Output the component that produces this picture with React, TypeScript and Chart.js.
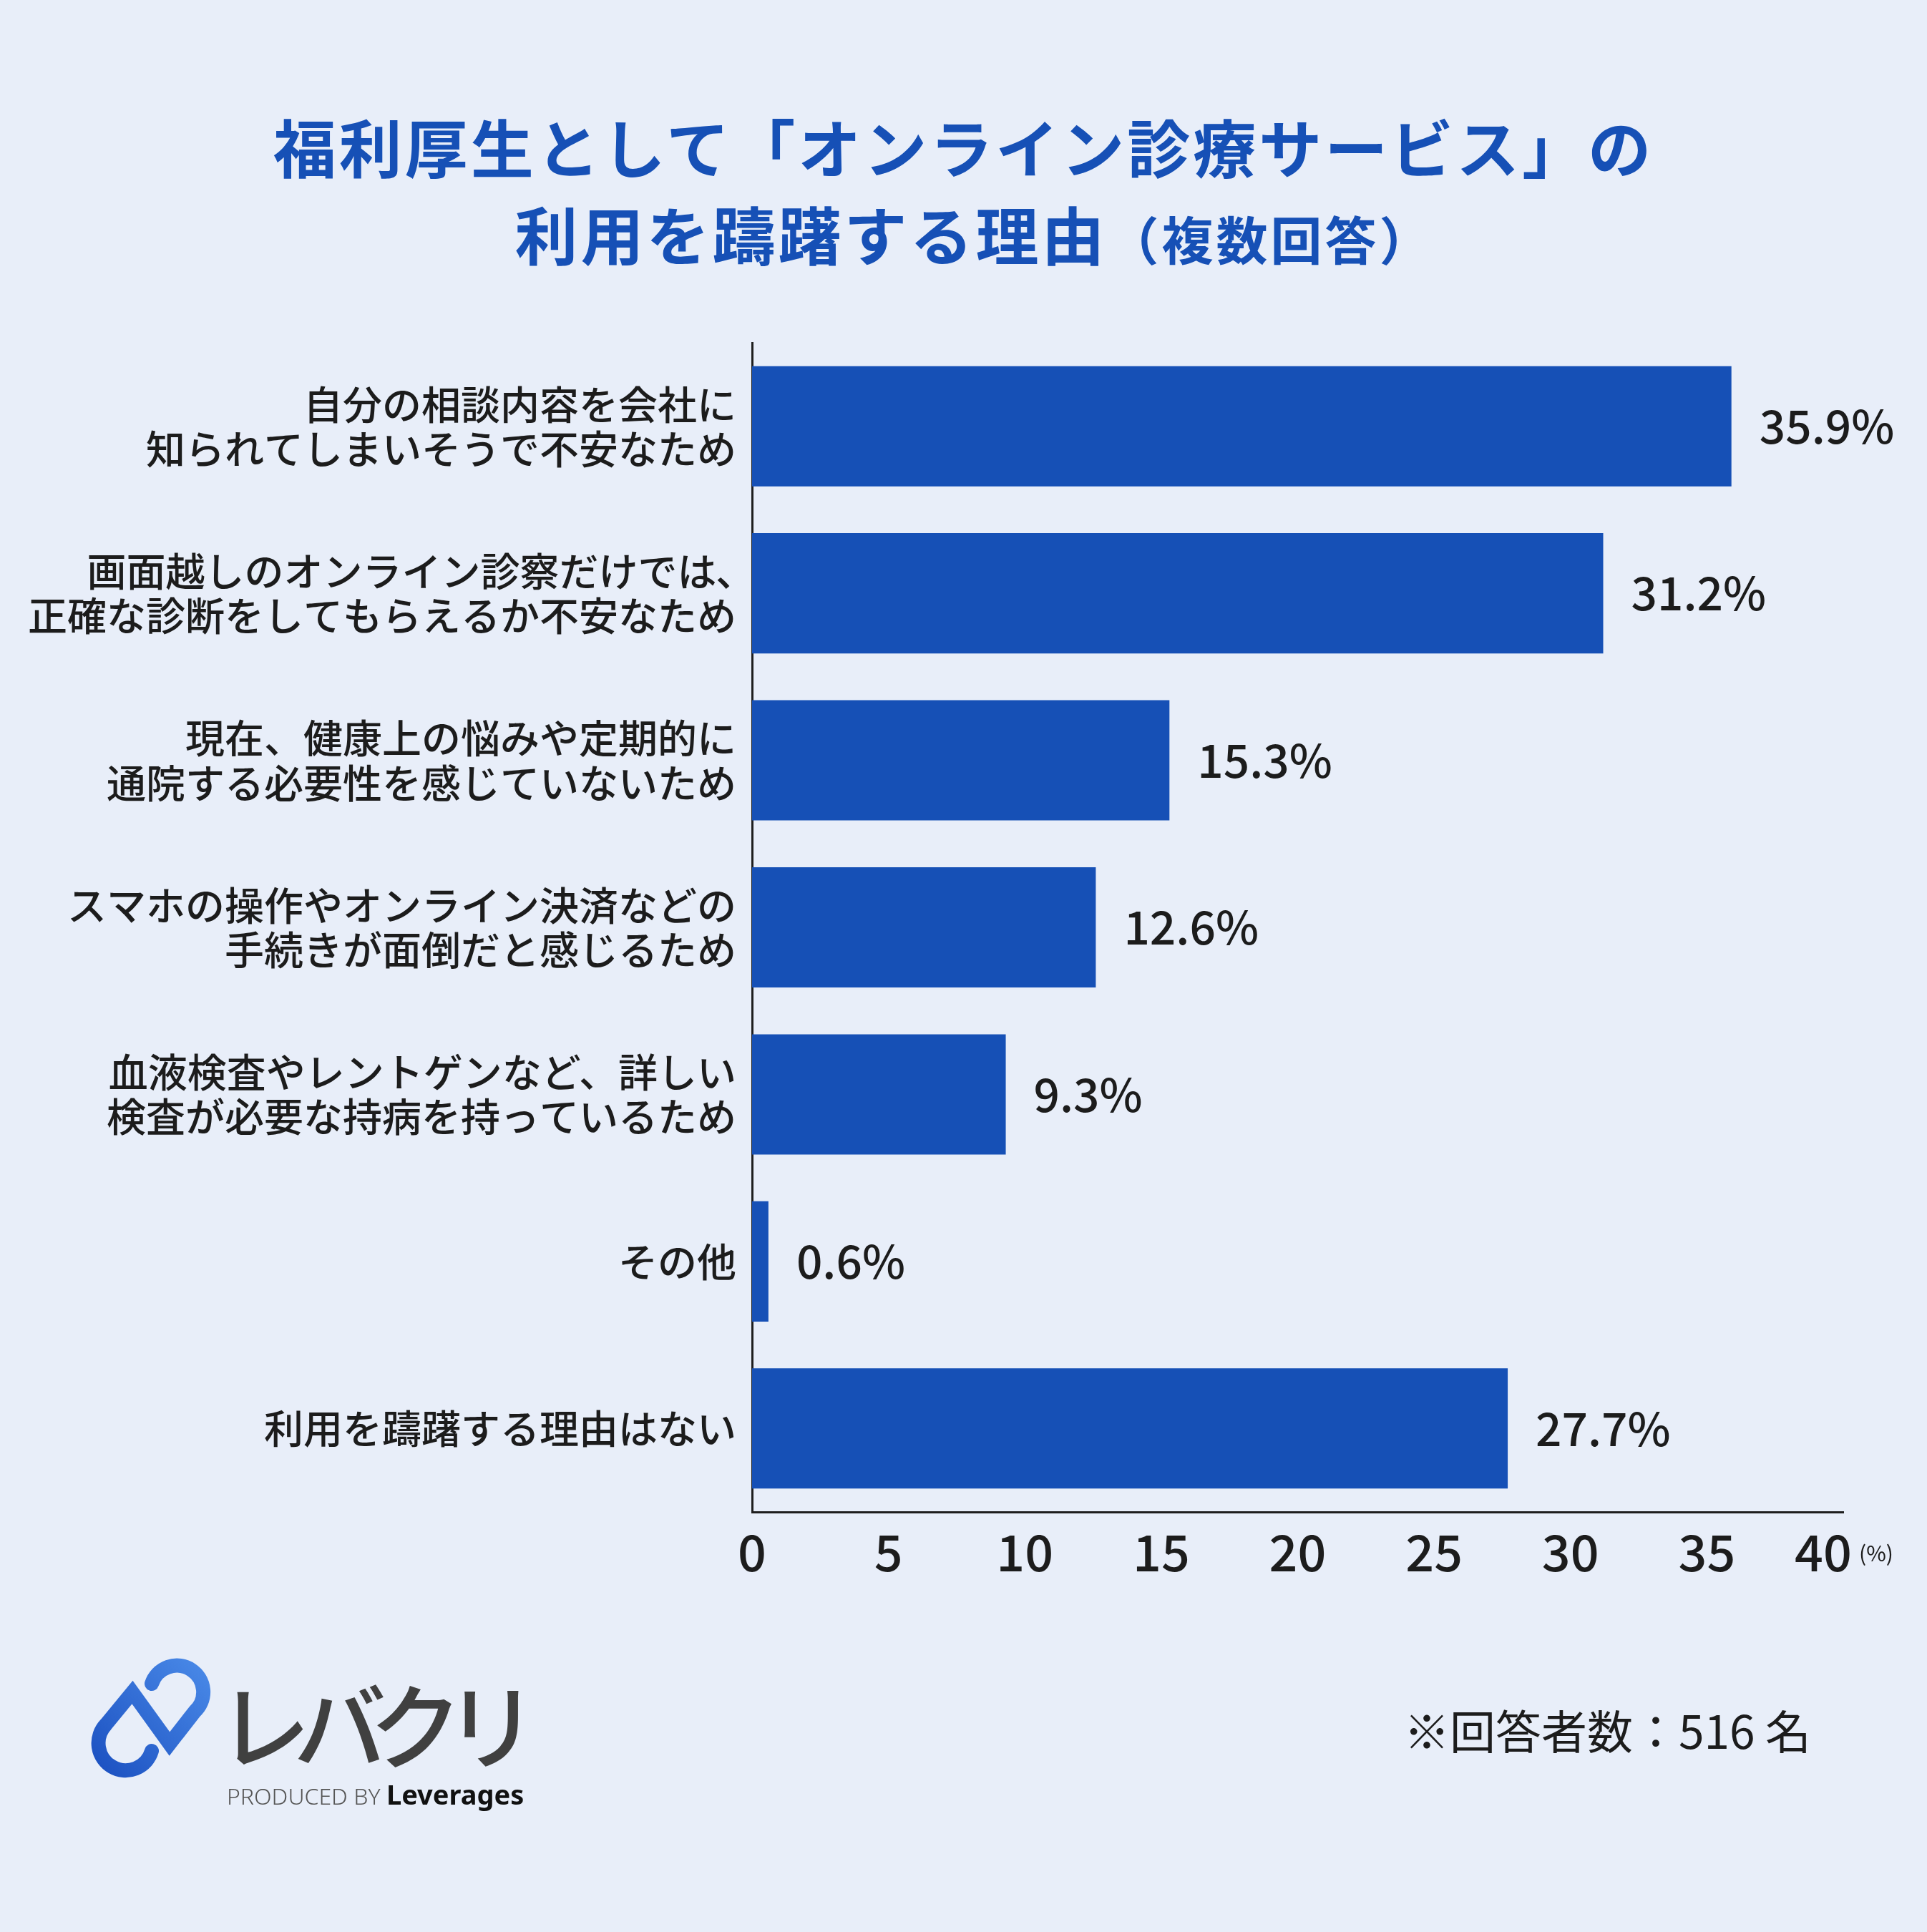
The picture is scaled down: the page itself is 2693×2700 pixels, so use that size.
import React, { useEffect, useRef } from 'react';
import { Chart, registerables } from 'chart.js';

Chart.register(...registerables);

// ---- data ----
const categories: (string | string[])[] = [
  ['自分の相談内容を会社に', '知られてしまいそうで不安なため'],
  ['画面越しのオンライン診察だけでは､', '正確な診断をしてもらえるか不安なため'],
  ['現在、健康上の悩みや定期的に', '通院する必要性を感じていないため'],
  ['スマホの操作やオンライン決済などの', '手続きが面倒だと感じるため'],
  ['血液検査やレントゲンなど、詳しい', '検査が必要な持病を持っているため'],
  'その他',
  '利用を躊躇する理由はない',
];
const values: number[] = [35.9, 31.2, 15.3, 12.6, 9.3, 0.6, 27.7];
const xMin = 0;
const xMax = 40;
const xStep = 5;
const titleLine1 = '福利厚生として「オンライン診療サービス」の';
const titleLine2 = '利用を躊躇する理由';
const titleSub = '（複数回答）';
const unitLabel = '(%)';
const footnote = '※回答者数：516 名';
const logoText = 'レバクリ';

// ---- style ----
const W = 2693;
const H = 2700;
const BG = '#E8EEF9';
const BAR = '#1650B6';
const TEXT = '#1c1c1c';
const FONT = "'Noto Sans CJK JP', 'Noto Sans', sans-serif";
const PLOT_LEFT = 1051;
const PLOT_TOP = 479;
const PLOT_RIGHT = 2576;
const PLOT_BOTTOM = 2113;
const LAST_TICK_SHIFT = -28;

const valueLabels = {
  id: 'valueLabels',
  afterDatasetsDraw(chart: any) {
    const ctx = chart.ctx;
    const meta = chart.getDatasetMeta(0);
    ctx.save();
    ctx.font = `500 64px ${FONT}`;
    ctx.fillStyle = TEXT;
    ctx.textAlign = 'left';
    ctx.textBaseline = 'middle';
    meta.data.forEach((bar: any, i: number) => {
      ctx.fillText(`${values[i]}%`, bar.x + 39, bar.y);
    });
    ctx.restore();
  },
};

// draws the last x tick label ("40") nudged left, leaving room for the unit
const lastTick = {
  id: 'lastTick',
  afterDraw(chart: any) {
    const xs = chart.scales.x;
    const items = xs.getLabelItems ? xs.getLabelItems() : [];
    const ref = items && items[0];
    if (!ref) return;
    const ctx = chart.ctx;
    ctx.save();
    ctx.font = ref.font.string;
    ctx.fillStyle = TEXT;
    ctx.textAlign = 'center';
    ctx.textBaseline = ref.options.textBaseline;
    ctx.fillText(String(xMax), xs.getPixelForValue(xMax) + LAST_TICK_SHIFT, ref.options.translation[1] + ref.textOffset);
    ctx.restore();
  },
};

export default function App() {
  const ref = useRef<HTMLCanvasElement>(null);

  useEffect(() => {
    document.body.style.margin = '0';
    const canvas = ref.current;
    if (!canvas) return;
    const chart = new Chart(canvas, {
      type: 'bar',
      data: {
        labels: categories,
        datasets: [
          {
            data: values,
            backgroundColor: BAR,
            borderWidth: 0,
            barPercentage: 0.72,
            categoryPercentage: 1,
          },
        ],
      },
      options: {
        indexAxis: 'y',
        animation: false,
        responsive: false,
        devicePixelRatio: 1,
        layout: { padding: { left: 0, top: PLOT_TOP, right: W - PLOT_RIGHT, bottom: 0 } },
        plugins: {
          legend: { display: false },
          tooltip: { enabled: false },
          title: { display: false },
        },
        scales: {
          x: {
            type: 'linear',
            min: xMin,
            max: xMax,
            ticks: {
              stepSize: xStep,
              padding: 14,
              color: TEXT,
              font: { family: FONT, size: 70, weight: '500' },
              callback: (v: any) => (Number(v) === xMax ? '' : String(v)),
            },
            grid: { display: false, drawTicks: false },
            border: { display: true, color: '#1e1e1e', width: 3 },
            afterFit: (s: any) => {
              s.height = H - PLOT_BOTTOM;
            },
          },
          y: {
            ticks: {
              padding: 22,
              color: TEXT,
              font: { family: FONT, size: 55, weight: '500', lineHeight: 1.13 },
            },
            grid: { display: false, drawTicks: false },
            border: { display: true, color: '#1e1e1e', width: 3 },
            afterFit: (s: any) => {
              s.width = PLOT_LEFT;
            },
          },
        },
      },
      plugins: [valueLabels, lastTick],
    });
    return () => chart.destroy();
  }, []);

  const abs = (s: React.CSSProperties): React.CSSProperties => ({ position: 'absolute', whiteSpace: 'nowrap', ...s });

  return (
    <div style={{ position: 'absolute', left: 0, top: 0, width: W, height: H, background: BG, overflow: 'hidden', fontFamily: FONT }}>
      <canvas ref={ref} width={W} height={H} style={{ position: 'absolute', left: 0, top: 0, width: W, height: H }} />
      <div style={abs({ left: 0, width: W, top: 210 - 51, textAlign: 'center', fontSize: 88, lineHeight: '88px', fontWeight: 700, color: BAR, letterSpacing: 4 })}>
        {titleLine1}
      </div>
      <div style={abs({ left: 15, width: W, top: 330 - 49, textAlign: 'center', fontSize: 88, lineHeight: '88px', fontWeight: 700, color: BAR, letterSpacing: 4 })}>
        {titleLine2}
        <span style={{ fontSize: 72, letterSpacing: 4 }}>{titleSub}</span>
      </div>
      <div style={abs({ left: 2598, top: 2172 - 18, fontSize: 30, lineHeight: '30px', color: TEXT })}>{unitLabel}</div>
      <div style={abs({ left: 1962, top: 2420 - 36, fontSize: 64, lineHeight: '64px', fontWeight: 400, color: TEXT })}>{footnote}</div>
      <div style={abs({ left: 304, top: 2412 - 72, fontSize: 130, lineHeight: '130px', fontWeight: 500, color: '#404040', letterSpacing: -24 })}>
        {logoText}
      </div>
      <div style={abs({ left: 317, top: 2487, fontSize: 32, lineHeight: '40px', color: '#555', fontFamily: "'Noto Sans', sans-serif", fontWeight: 300 })}>
        PRODUCED BY{' '}
        <span style={{ fontSize: 38, fontWeight: 700, color: '#111' }}>Leverages</span>
      </div>
      <svg width={W} height={H} style={{ position: 'absolute', left: 0, top: 0, pointerEvents: 'none' }}>
        <defs>
          <linearGradient id="lg" x1="290" y1="2322" x2="130" y2="2480" gradientUnits="userSpaceOnUse">
            <stop offset="0" stopColor="#4a8ae8" />
            <stop offset="1" stopColor="#1a4fc0" />
          </linearGradient>
        </defs>
        <path
          d="M 212 2353 A 37 37 0 1 1 272 2392 L 237 2437 L 185 2365 L 148 2410 A 38 38 0 1 0 212 2447"
          fill="none"
          stroke="url(#lg)"
          strokeWidth={20}
          strokeLinecap="round"
          strokeLinejoin="miter"
        />
      </svg>
    </div>
  );
}
